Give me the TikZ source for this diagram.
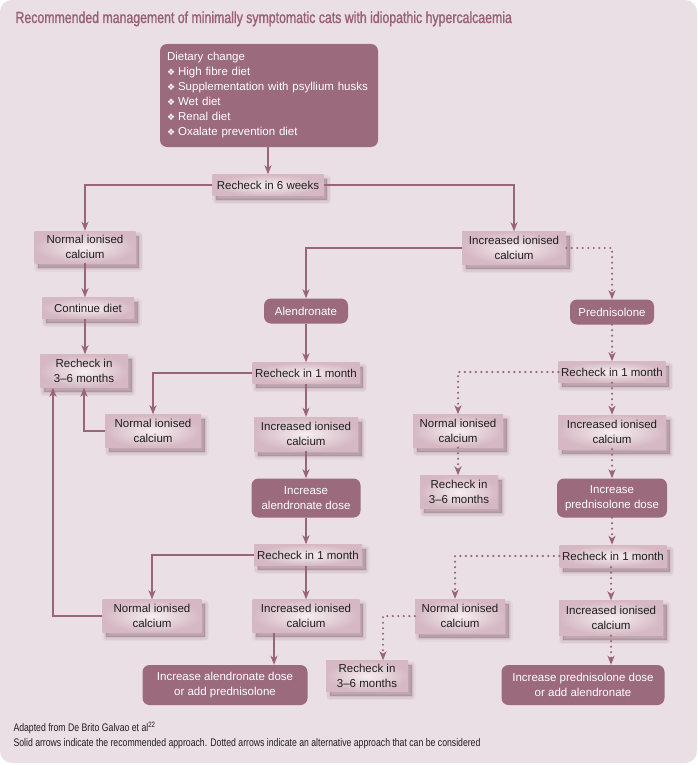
\documentclass[tikz,border=0pt]{standalone}
\usepackage{fontspec}
\setmainfont{Liberation Sans}
\newfontfamily\condfont[FakeStretch=0.79]{Liberation Sans}
\newfontfamily\titlefont[FakeStretch=0.77,FakeBold=1.3]{Liberation Sans}
\newfontfamily\symfont{DejaVu Sans}
\usetikzlibrary{arrows.meta}
\definecolor{bgc}{HTML}{EADFE4}
\definecolor{darkc}{HTML}{9B6A7D}
\definecolor{linec}{HTML}{9A6479}
\definecolor{titlec}{HTML}{9A6078}
\definecolor{lboxin}{HTML}{F6EEF1}
\definecolor{lboxout}{HTML}{D5B8C3}
\definecolor{shadc}{HTML}{6E3C52}
\definecolor{txtc}{HTML}{1E1E1E}
\newcommand{\bul}{{\symfont\fontsize{9}{9}\selectfont ❖}\hspace{3pt}}
\begin{document}
\begin{tikzpicture}[x=1pt,y=-1pt,
  every node/.style={font=\fontsize{11.5}{15}\selectfont, text=txtc},
  shadowpart/.style={fill=shadc, draw=shadc, line join=round, transform canvas={shift={(3.5pt,-4.5pt)}}},
  lbox/.style={rectangle, inner sep=2pt, align=center, inner color=lboxin, outer color=lboxout,
    preaction={shadowpart, line width=8pt, opacity=0.05},
    preaction={shadowpart, line width=5pt, opacity=0.07},
    preaction={shadowpart, line width=2pt, opacity=0.09},
    preaction={shadowpart, draw=none, opacity=0.12}},
  dbox/.style={rectangle, rounded corners=7pt, fill=darkc, text=white, align=center, inner sep=2pt},
  conn/.style={draw=linec, line width=2.4pt, -{Stealth[length=9pt,width=7pt,inset=2.5pt]}},
  dotc/.style={conn, line cap=round, dash pattern=on 0pt off 5.5pt},
  ]
\useasboundingbox (0,0) rectangle (697,765);
\fill[white] (0,0) rectangle (697,765);
\fill[bgc, rounded corners=12pt] (0,0) rectangle (697,763);

% title
\node[anchor=base west, font=\titlefont\fontsize{16}{16}\selectfont, text=titlec] (title) at (12,23)
  {Recommended management of minimally symptomatic cats with idiopathic hypercalcaemia};

% dietary box
\node[dbox, minimum width=218pt, minimum height=103pt, text width=204pt, align=left] (diet) at (269,95.5)
  {Dietary change\\
   \bul High fibre diet\\
   \bul Supplementation with psyllium husks\\
   \bul Wet diet\\
   \bul Renal diet\\
   \bul Oxalate prevention diet};

% light boxes
\node[lbox, minimum width=111pt, minimum height=21pt] (r6w) at (268,185) {Recheck in 6 weeks};
\node[lbox, minimum width=101pt, minimum height=32pt] (nic1) at (85,247) {Normal ionised\\calcium};
\node[lbox, minimum width=104pt, minimum height=33pt] (iic1) at (514,248) {Increased ionised\\calcium};
\node[lbox, minimum width=92pt, minimum height=21pt] (cont) at (88,308) {Continue diet};
\node[lbox, minimum width=88pt, minimum height=33pt] (r36a) at (84,371) {Recheck in\\3--6 months};

\node[dbox, minimum width=84pt, minimum height=25pt] (alen) at (306,311) {Alendronate};
\node[dbox, minimum width=84pt, minimum height=25pt] (pred) at (612,312) {Prednisolone};

\node[lbox, minimum width=107pt, minimum height=21pt] (rc1a) at (306,373) {Recheck in 1 month};
\node[lbox, minimum width=96pt, minimum height=33pt] (nic2) at (153,431) {Normal ionised\\calcium};
\node[lbox, minimum width=104pt, minimum height=34pt] (iic2) at (306,434) {Increased ionised\\calcium};
\node[dbox, minimum width=109pt, minimum height=39pt] (incA) at (306,498) {Increase\\alendronate dose};
\node[lbox, minimum width=108pt, minimum height=21pt] (rc1b) at (308,555) {Recheck in 1 month};
\node[lbox, minimum width=99pt, minimum height=33pt] (nic3) at (152,616) {Normal ionised\\calcium};
\node[lbox, minimum width=107pt, minimum height=33pt] (iic3) at (306,616) {Increased ionised\\calcium};
\node[dbox, minimum width=165pt, minimum height=40pt] (incAP) at (225,685) {Increase alendronate dose\\or add prednisolone};

\node[lbox, minimum width=107pt, minimum height=21pt] (rc1c) at (612,372) {Recheck in 1 month};
\node[lbox, minimum width=90pt, minimum height=33pt] (nic4) at (458,431) {Normal ionised\\calcium};
\node[lbox, minimum width=78pt, minimum height=33pt] (r36b) at (459,492) {Recheck in\\3--6 months};
\node[lbox, minimum width=108pt, minimum height=34pt] (iic4) at (612,432) {Increased ionised\\calcium};
\node[dbox, minimum width=110pt, minimum height=39pt] (incP) at (612,498) {Increase\\prednisolone dose};
\node[lbox, minimum width=107pt, minimum height=22pt] (rc1d) at (613,556) {Recheck in 1 month};
\node[lbox, minimum width=90pt, minimum height=34pt] (nic5) at (460,616) {Normal ionised\\calcium};
\node[lbox, minimum width=104pt, minimum height=35pt] (iic5) at (611,618) {Increased ionised\\calcium};
\node[lbox, minimum width=82pt, minimum height=31pt] (r36c) at (367,676) {Recheck in\\3--6 months};
\node[dbox, minimum width=163pt, minimum height=40pt] (incPA) at (583,685) {Increase prednisolone dose\\or add alendronate};

% footer
\node[anchor=base west, font=\condfont\fontsize{11}{12}\selectfont] (src) at (10,731)
  {Adapted from De Brito Galvao et al\textsuperscript{22}};
\node[anchor=base west, font=\condfont\fontsize{11}{12}\selectfont] (note) at (10,746)
  {Solid arrows indicate the recommended approach. Dotted arrows indicate an alternative approach that can be considered};

% solid connectors
\draw[conn] (diet.south -| r6w.north) -- (r6w.north);
\draw[conn] (r6w.west) -| (nic1.north);
\draw[conn] (r6w.east) -| (iic1.north);
\draw[conn] (nic1.south) -- (nic1.south |- cont.north);
\draw[conn] (nic1.south |- cont.south) -- (nic1.south |- r36a.north);
\draw[conn] (iic1.west) -| (alen.north);
\draw[conn] (alen.south) -- (rc1a.north);
\draw[conn] (rc1a.west) -| (nic2.north);
\draw[conn] (rc1a.south) -- (iic2.north);
\draw[conn] (iic2.south) -- (incA.north);
\draw[conn] (incA.south) -- (incA.south |- rc1b.north);
\draw[conn] (rc1b.west) -| (nic3.north);
\draw[conn] (rc1b.south -| iic3.north) -- (iic3.north);
\draw[conn] (nic2.west) -| (r36a.south);
\draw[conn] (nic3.west) -| ([xshift=-31pt]r36a.south);
\draw[conn] ([xshift=-32pt]iic3.south) -- ([xshift=-32pt]iic3.south |- incAP.north);

% dotted connectors
\draw[dotc] (iic1.east) -| (pred.north);
\draw[dotc] (pred.south) -- (rc1c.north);
\draw[dotc] (rc1c.west) -| (nic4.north);
\draw[dotc] (nic4.south) -- (nic4.south |- r36b.north);
\draw[dotc] (rc1c.south) -- (iic4.north);
\draw[dotc] (iic4.south) -- (incP.north);
\draw[dotc] (incP.south) -- (incP.south |- rc1d.north);
\draw[dotc] (rc1d.west) -| ([xshift=-5pt]nic5.north);
\draw[dotc] (rc1d.south -| iic5.north) -- (iic5.north);
\draw[dotc] (nic5.west) -| ([xshift=16pt]r36c.north);
\draw[dotc] (iic5.south) -- (iic5.south |- incPA.north);
\end{tikzpicture}
\end{document}
